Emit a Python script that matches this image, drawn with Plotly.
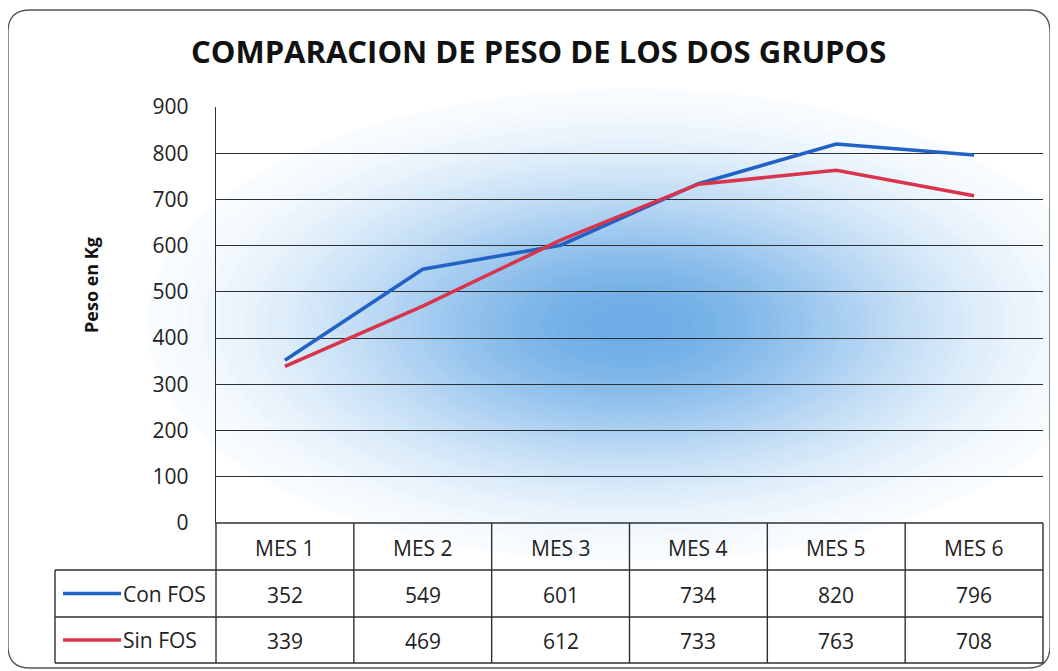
import math
import plotly.graph_objects as go

categories = ["MES 1", "MES 2", "MES 3", "MES 4", "MES 5", "MES 6"]
con_fos = [352, 549, 601, 734, 820, 796]
sin_fos = [339, 469, 612, 733, 763, 708]
series_names = ["Con FOS", "Sin FOS"]
series_values = [con_fos, sin_fos]
series_colors = ["#2262c4", "#d8344c"]
y_ticks = [0, 100, 200, 300, 400, 500, 600, 700, 800, 900]

OFF = 8  # page body margin
W, H = 1058 - OFF, 671 - OFF
RL, RR, RT, RB = 216, 1043, 107, 523
L, T = RL - OFF, RT - OFF
PW = RR - RL
PH = RB - RT
R = W - L - PW
B = H - T - PH


def px(x):
    return (x - RL) / PW


def py(y):
    return (RB - y) / PH


FONT = "Open Sans"
fig = go.Figure()

for name, vals, col in zip(series_names, series_values, series_colors):
    fig.add_trace(go.Scatter(x=categories, y=vals, mode="lines", name=name,
                             line=dict(color=col, width=3.6), showlegend=False))

shapes = []
# soft gaussian-like glow behind the plot (decoration), opaque graded rings
cx, cy = px(630), py(325)
n = 50
j0 = 3
sx, sy = 215, 105
c_out = (252, 254, 255)
c_in = (108, 172, 230)
for j in range(j0 + 1, n):
    d = math.sqrt(2 * math.log(n / j))
    t = (j - j0) / (n - j0)
    col = tuple(round(c_out[k] + (c_in[k] - c_out[k]) * t) for k in range(3))
    rx = sx * d / PW
    ry = sy * d / PH
    shapes.append(dict(type="circle", xref="paper", yref="paper", layer="below",
                       x0=cx - rx, x1=cx + rx, y0=cy - ry, y1=cy + ry,
                       fillcolor="rgb(%d,%d,%d)" % col, line=dict(width=0)))

# outer rounded frame
fx0, fx1, fy0, fy1 = 8, 1050, 10, 668
r = 22
path = (f"M {px(fx0+r)},{py(fy0)} L {px(fx1-r)},{py(fy0)} "
        f"Q {px(fx1)},{py(fy0)} {px(fx1)},{py(fy0+r)} L {px(fx1)},{py(fy1-r)} "
        f"Q {px(fx1)},{py(fy1)} {px(fx1-r)},{py(fy1)} L {px(fx0+r)},{py(fy1)} "
        f"Q {px(fx0)},{py(fy1)} {px(fx0)},{py(fy1-r)} L {px(fx0)},{py(fy0+r)} "
        f"Q {px(fx0)},{py(fy0)} {px(fx0+r)},{py(fy0)} Z")
shapes.append(dict(type="path", xref="paper", yref="paper", path=path,
                   line=dict(color="#555", width=1.3), layer="below"))

# data table
row_y = [523, 570, 617, 663]
leg_x = 55
grid_col = "#2c3034"
lw = 1.4
shapes.append(dict(type="line", xref="paper", yref="paper", x0=0, x1=1,
                   y0=py(row_y[0]), y1=py(row_y[0]), line=dict(color=grid_col, width=lw)))
for yy in row_y[1:]:
    shapes.append(dict(type="line", xref="paper", yref="paper", x0=px(leg_x), x1=1,
                       y0=py(yy), y1=py(yy), line=dict(color=grid_col, width=lw)))
for i in range(len(categories) + 1):
    shapes.append(dict(type="line", xref="paper", yref="paper", x0=i / 6, x1=i / 6,
                       y0=py(row_y[0]), y1=py(row_y[-1]), line=dict(color=grid_col, width=lw)))
shapes.append(dict(type="line", xref="paper", yref="paper", x0=px(leg_x), x1=px(leg_x),
                   y0=py(row_y[1]), y1=py(row_y[-1]), line=dict(color=grid_col, width=lw)))

annotations = []
tfont = dict(family=FONT, size=21, color="#222")


def ann(x, y, text, font, xanchor="center", **kw):
    annotations.append(dict(xref="paper", yref="paper", x=x, y=y, text=text, showarrow=False,
                            xanchor=xanchor, yanchor="middle", font=font, **kw))


for i, c in enumerate(categories):
    ann((i + 0.5) / 6, py((row_y[0] + row_y[1]) / 2 + 1), c, tfont)
for r_i, (name, vals, col) in enumerate(zip(series_names, series_values, series_colors)):
    yc = (row_y[r_i + 1] + row_y[r_i + 2]) / 2
    for i, v in enumerate(vals):
        ann((i + 0.5) / 6, py(yc + 1), str(v), tfont)
    shapes.append(dict(type="line", xref="paper", yref="paper", x0=px(63), x1=px(121),
                       y0=py(yc), y1=py(yc), line=dict(color=col, width=3.6)))
    ann(px(121), py(yc), name, tfont, xanchor="left")

ann(px(538), py(51), "<b>COMPARACION DE PESO DE LOS DOS GRUPOS</b>",
    dict(family=FONT, size=31, color="#111"))
ann(px(91), py(285), "<b>Peso en Kg</b>", dict(family=FONT, size=18, color="#111"), textangle=-90)

fig.update_layout(
    width=W, height=H,
    margin=dict(l=L, r=R, t=T, b=B, autoexpand=False),
    paper_bgcolor="white", plot_bgcolor="rgba(0,0,0,0)",
    shapes=shapes, annotations=annotations,
    xaxis=dict(type="category", categoryorder="array", categoryarray=categories,
               range=[-0.5, 5.5], showticklabels=False, showgrid=False, zeroline=False,
               showline=False, ticks=""),
    yaxis=dict(range=[0, 900], tickvals=y_ticks, showgrid=True, gridcolor=grid_col, gridwidth=1.4,
               zeroline=False, showline=True, linecolor=grid_col, linewidth=1.4, ticks="",
               tickfont=dict(family=FONT, size=21, color="#222"), ticklabelstandoff=22),
)

fig.write_html("out.html")
